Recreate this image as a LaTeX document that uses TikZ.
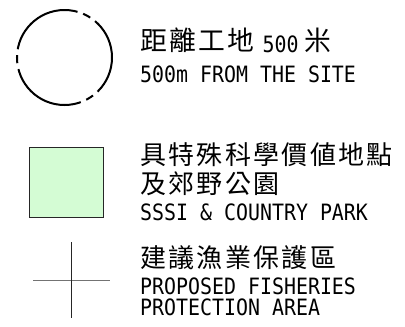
\documentclass[tikz,border=0pt]{standalone}
\usepackage{fontspec}
\newfontfamily\cadfont{DejaVu Sans Mono}[FakeStretch=0.885]
\newfontfamily\cjkfont{Noto Sans CJK TC}[LetterSpace=9]
\newcommand{\en}{\cadfont\fontsize{22.5}{22.5}\selectfont}
\newcommand{\zh}[2][26]{\raisebox{1.8pt}{\cjkfont\fontsize{#1}{#1}\selectfont #2}}
\definecolor{sssigreen}{RGB}{212,252,212}
\begin{document}
\begin{tikzpicture}[x=1pt,y=-1pt,legtext/.style={anchor=base west,inner sep=0pt,font=\en}]
	\useasboundingbox (0,0) rectangle (405,327);
	% 500 m circle
	\draw[line width=2pt, dash pattern=on 79.48pt off 6pt on 8pt off 6pt, dash phase=38.08pt] (64.5,57.5) circle[radius=47.5pt];
	\node[legtext] (radzh) at (140,52.5) {\zh[26.8]{距離工地}\hspace{8pt}500\hspace{6pt}\zh[26.8]{米}};
	\node[legtext] (raden) at (140,82.3) {500m FROM THE SITE};
	% SSSI and country park
	\filldraw[fill=sssigreen, draw=black!85, line width=1.2pt] (29.6,147.6) rectangle (103.7,217.7);
	\node[legtext] (parkzha) at (140,166) {\zh{具特殊科學價値地點}};
	\node[legtext] (parkzhb) at (140,195) {\zh{及郊野公園}};
	\node[legtext] (parken) at (140,220.7) {SSSI \& COUNTRY PARK};
	% fisheries protection area
	\draw[black!55, line width=1pt] (33,280.7) -- (110,280.7);
	\draw[black!85, line width=1pt] (71.3,242.3) -- (71.3,318.3);
	\node[legtext] (fishzh) at (140,269) {\zh{建議漁業保護區}};
	\node[legtext] (fishena) at (140,294) {PROPOSED FISHERIES};
	\node[legtext] (fishenb) at (140,315) {PROTECTION AREA};
\end{tikzpicture}
\end{document}
